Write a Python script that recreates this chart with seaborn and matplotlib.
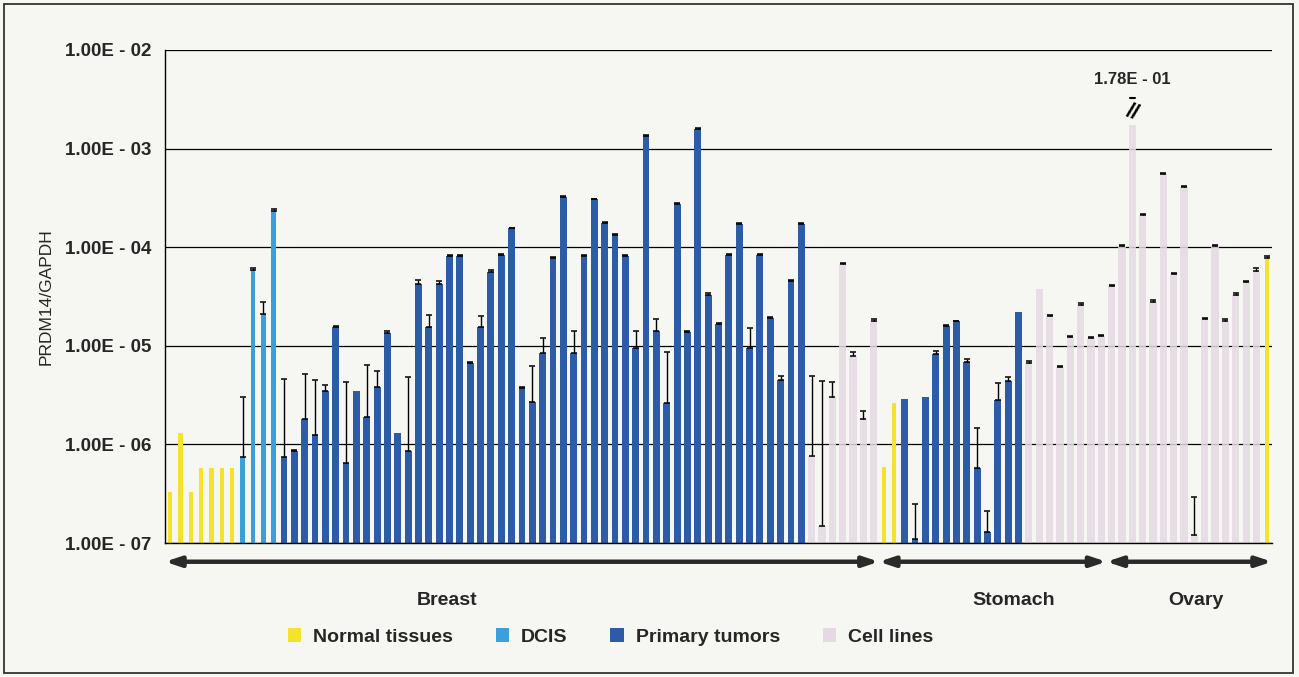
import numpy as np
import pandas as pd
import seaborn as sns
import matplotlib.pyplot as plt
from matplotlib.patches import Patch, Rectangle
from matplotlib.ticker import NullLocator
from matplotlib import font_manager

nan = np.nan

# PRDM14/GAPDH expression (value, upper end of error bar)
breast_normal = [3.3e-7, 1.3e-6, 3.3e-7, 5.8e-7, 5.8e-7, 5.8e-7, 5.8e-7]
breast_normal_top = [nan] * 7

breast_dcis = [7.5e-7, 5.9e-5, 2.1e-5, 2.35e-4]
breast_dcis_top = [3.0e-6, 6.1e-5, 2.75e-5, 2.45e-4]

breast_tumor = [7.5e-7, 8.5e-7, 1.8e-6, 1.26e-6, 3.5e-6, 1.55e-5, 6.5e-7, 3.5e-6, 1.9e-6, 3.8e-6,
                1.34e-5, 1.3e-6, 8.5e-7, 4.2e-5, 1.55e-5, 4.2e-5, 8.2e-5, 8.2e-5, 6.7e-6, 1.55e-5,
                5.6e-5, 8.4e-5, 1.55e-4, 3.7e-6, 2.7e-6, 8.5e-6, 7.7e-5, 3.2e-4, 8.5e-6, 8.2e-5,
                3.05e-4, 1.75e-4, 1.34e-4, 8.1e-5, 9.6e-6, 1.35e-3, 1.4e-5, 2.65e-6, 2.75e-4, 1.37e-5,
                1.57e-3, 3.3e-5, 1.66e-5, 8.3e-5, 1.7e-4, 9.6e-6, 8.3e-5, 1.9e-5, 4.5e-6, 4.5e-5,
                1.7e-4]
breast_tumor_top = [4.6e-6, 8.8e-7, 5.2e-6, 4.5e-6, 4.0e-6, 1.58e-5, 4.3e-6, nan, 6.4e-6, 5.5e-6,
                    1.4e-5, nan, 4.8e-6, 4.6e-5, 2.05e-5, 4.5e-5, 8.4e-5, 8.4e-5, 6.9e-6, 2.0e-5,
                    5.9e-5, 8.6e-5, 1.58e-4, 3.8e-6, 6.2e-6, 1.2e-5, 7.9e-5, 3.3e-4, 1.4e-5, 8.4e-5,
                    3.1e-4, 1.8e-4, 1.37e-4, 8.3e-5, 1.4e-5, 1.38e-3, 1.86e-5, 8.6e-6, 2.8e-4, 1.4e-5,
                    1.6e-3, 3.4e-5, 1.7e-5, 8.5e-5, 1.74e-4, 1.5e-5, 8.5e-5, 1.95e-5, 4.9e-6, 4.6e-5,
                    1.74e-4]

breast_cells = [7.6e-7, 1.5e-7, 3.0e-6, 6.7e-5, 7.9e-6, 1.8e-6, 1.8e-5]
breast_cells_top = [4.9e-6, 4.4e-6, 4.3e-6, 6.9e-5, 8.6e-6, 2.2e-6, 1.85e-5]

stomach_normal = [5.9e-7, 2.6e-6]
stomach_normal_top = [nan, nan]

stomach_tumor = [2.9e-6, 1.1e-7, 3.0e-6, 8.2e-6, 1.6e-5, 1.78e-5, 6.9e-6, 5.8e-7, 1.3e-7, 2.8e-6,
                 4.4e-6, 2.2e-5]
stomach_tumor_top = [nan, 2.5e-7, nan, 8.8e-6, 1.63e-5, 1.8e-5, 7.3e-6, 1.45e-6, 2.1e-7, 4.2e-6,
                     4.8e-6, nan]

stomach_cells = [6.7e-6, 3.8e-5, 2.0e-5, 6.1e-6, 1.23e-5, 2.6e-5, 1.2e-5, 1.25e-5]
stomach_cells_top = [7.0e-6, nan, 2.05e-5, 6.3e-6, 1.27e-5, 2.7e-5, 1.24e-5, 1.29e-5]

ovary_cells = [4.0e-5, 1.02e-4, 1.78e-1, 2.1e-4, 2.8e-5, 5.5e-4, 5.4e-5, 4.1e-4, 1.2e-7, 1.87e-5,
               1.02e-4, 1.8e-5, 3.3e-5, 4.4e-5, 5.8e-5]
ovary_cells_top = [4.1e-5, 1.05e-4, nan, 2.15e-4, 2.9e-5, 5.6e-4, 5.5e-5, 4.2e-4, 2.9e-7, 1.93e-5,
                   1.05e-4, 1.85e-5, 3.4e-5, 4.5e-5, 6.2e-5]

ovary_normal = [7.8e-5]
ovary_normal_top = [8.1e-5]

tissues = ['Breast', 'Stomach', 'Ovary']
types = ['Normal tissues', 'DCIS', 'Primary tumors', 'Cell lines']
colors = ['#f4e22c', '#3a9fda', '#2c5ca8', '#e5dae3']
decades = [1e-7, 1e-6, 1e-5, 1e-4, 1e-3, 1e-2]

groups = [
    ('Breast', 'Normal tissues', breast_normal, breast_normal_top),
    ('Breast', 'DCIS', breast_dcis, breast_dcis_top),
    ('Breast', 'Primary tumors', breast_tumor, breast_tumor_top),
    ('Breast', 'Cell lines', breast_cells, breast_cells_top),
    ('Stomach', 'Normal tissues', stomach_normal, stomach_normal_top),
    ('Stomach', 'Primary tumors', stomach_tumor, stomach_tumor_top),
    ('Stomach', 'Cell lines', stomach_cells, stomach_cells_top),
    ('Ovary', 'Cell lines', ovary_cells, ovary_cells_top),
    ('Ovary', 'Normal tissues', ovary_normal, ovary_normal_top),
]

df = pd.concat([pd.DataFrame({'tissue': t, 'type': k, 'value': v, 'top': e})
                for t, k, v, e in groups], ignore_index=True)
df['pos'] = np.arange(len(df))

# the one off-scale bar is drawn broken just above 1E-03
BREAK_AT = 1.75e-3
df['shown'] = df['value'].clip(upper=BREAK_AT)

sns.set_style('white')
names = {f.name for f in font_manager.fontManager.ttflist}
narrow = 'Liberation Sans Narrow' if 'Liberation Sans Narrow' in names else 'Liberation Sans'
plt.rcParams['font.family'] = ['Liberation Sans', 'DejaVu Sans']

bg = '#f6f6f3'
fig = plt.figure(figsize=(12.99, 6.77), dpi=100, facecolor=bg)
ax = fig.add_axes([165 / 1299, 1 - 543 / 677, (1272 - 165) / 1299, (543 - 50) / 677])
ax.set_facecolor(bg)

sns.barplot(data=df, x='pos', y='shown', hue='type', hue_order=types, palette=colors,
            dodge=False, width=0.65, saturation=1, errorbar=None, legend=False, ax=ax)
ax.set_yscale('log')

# per-type bar widths as in the original
widths = {'Normal tissues': 0.4, 'DCIS': 0.45, 'Primary tumors': 0.66, 'Cell lines': 0.7}
for p in ax.patches:
    c = p.get_x() + p.get_width() / 2
    i = int(round(c))
    if 0 <= i < len(df):
        w = widths[df.loc[i, 'type']]
        p.set_width(w)
        p.set_x(c - w / 2)
        p.set_edgecolor('none')
        if df.loc[i, 'type'] == 'Cell lines':
            p.set_alpha(0.85)

# one-sided error bars
m = df['top'].notna()
ax.errorbar(df.loc[m, 'pos'], df.loc[m, 'shown'],
            yerr=[np.zeros(m.sum()), (df.loc[m, 'top'] - df.loc[m, 'shown']).values],
            fmt='none', ecolor='black', elinewidth=1.0, capsize=2.2, capthick=1.1, zorder=4)

# broken bar
for _, r in df[df['value'] > BREAK_AT].iterrows():
    ax.text(r['pos'], BREAK_AT * 1.3, '//', ha='center', va='center', fontsize=16,
            fontweight='bold', rotation=-20, color='black', zorder=5)
    ax.plot([r['pos'] - 0.25, r['pos'] + 0.25], [BREAK_AT * 1.85] * 2, color='black', lw=1.5)
    ax.text(r['pos'], BREAK_AT * 2.9, f"{r['value']:.2E}".replace('E-', 'E - '),
            ha='center', va='center', fontsize=12, fontweight='bold')

ax.set_ylim(decades[0], decades[-1])
ax.set_xlim(-0.5, len(df) - 0.5)
ax.yaxis.set_minor_locator(NullLocator())
ax.set_yticks(decades)
ax.set_yticklabels([f'{d:.2E}'.replace('E-', 'E - ') for d in decades],
                   fontweight='bold', fontsize=13.5)
ax.tick_params(axis='y', length=0, pad=10)
ax.set_xticks(np.arange(-0.5, len(df), 1))
ax.set_xticklabels([])
ax.tick_params(axis='x', direction='inout', length=4, width=0.8, color='#333333')
ax.set_xlabel('')
ax.set_ylabel('PRDM14/GAPDH', fontsize=12.5, labelpad=8)

ax.yaxis.grid(True, color='black', lw=0.9)
ax.set_axisbelow(True)
for s in ['top', 'right']:
    ax.spines[s].set_visible(False)
for s in ['left', 'bottom']:
    ax.spines[s].set_color('black')
    ax.spines[s].set_linewidth(1.0)

# tissue arrows and labels
trans = ax.get_xaxis_transform()
for t in tissues:
    sub = df[df['tissue'] == t]
    ax.annotate('', xy=(sub['pos'].max() + 0.5, -0.038), xytext=(sub['pos'].min() - 0.5, -0.038),
                xycoords=trans, textcoords=trans, annotation_clip=False,
                arrowprops=dict(arrowstyle='<|-|>,head_length=0.9,head_width=0.3', lw=3.2,
                                color='#2a2a2a', shrinkA=0, shrinkB=0))
label_x = {'Breast': 26.8, 'Stomach': 81.5, 'Ovary': 99.1}
for t in tissues:
    ax.text(label_x[t], -0.116, t, transform=trans, ha='center', va='center',
            fontsize=14, fontweight='bold', family=[narrow, 'DejaVu Sans'])

handles = [Patch(facecolor=c, edgecolor='none') for c in colors]
fig.legend(handles, types, loc='center', bbox_to_anchor=(0.47, 0.059), ncol=4, frameon=False,
           handlelength=0.7, handleheight=0.7, handletextpad=0.6, columnspacing=2.2,
           prop={'weight': 'bold', 'size': 14, 'family': [narrow, 'DejaVu Sans']})

fig.add_artist(Rectangle((4 / 1299, 4 / 677), 1289 / 1299, 669 / 677, transform=fig.transFigure,
                         fill=False, lw=1.3, ec='#333333'))

fig.savefig('out.png', dpi=100, facecolor=bg)
